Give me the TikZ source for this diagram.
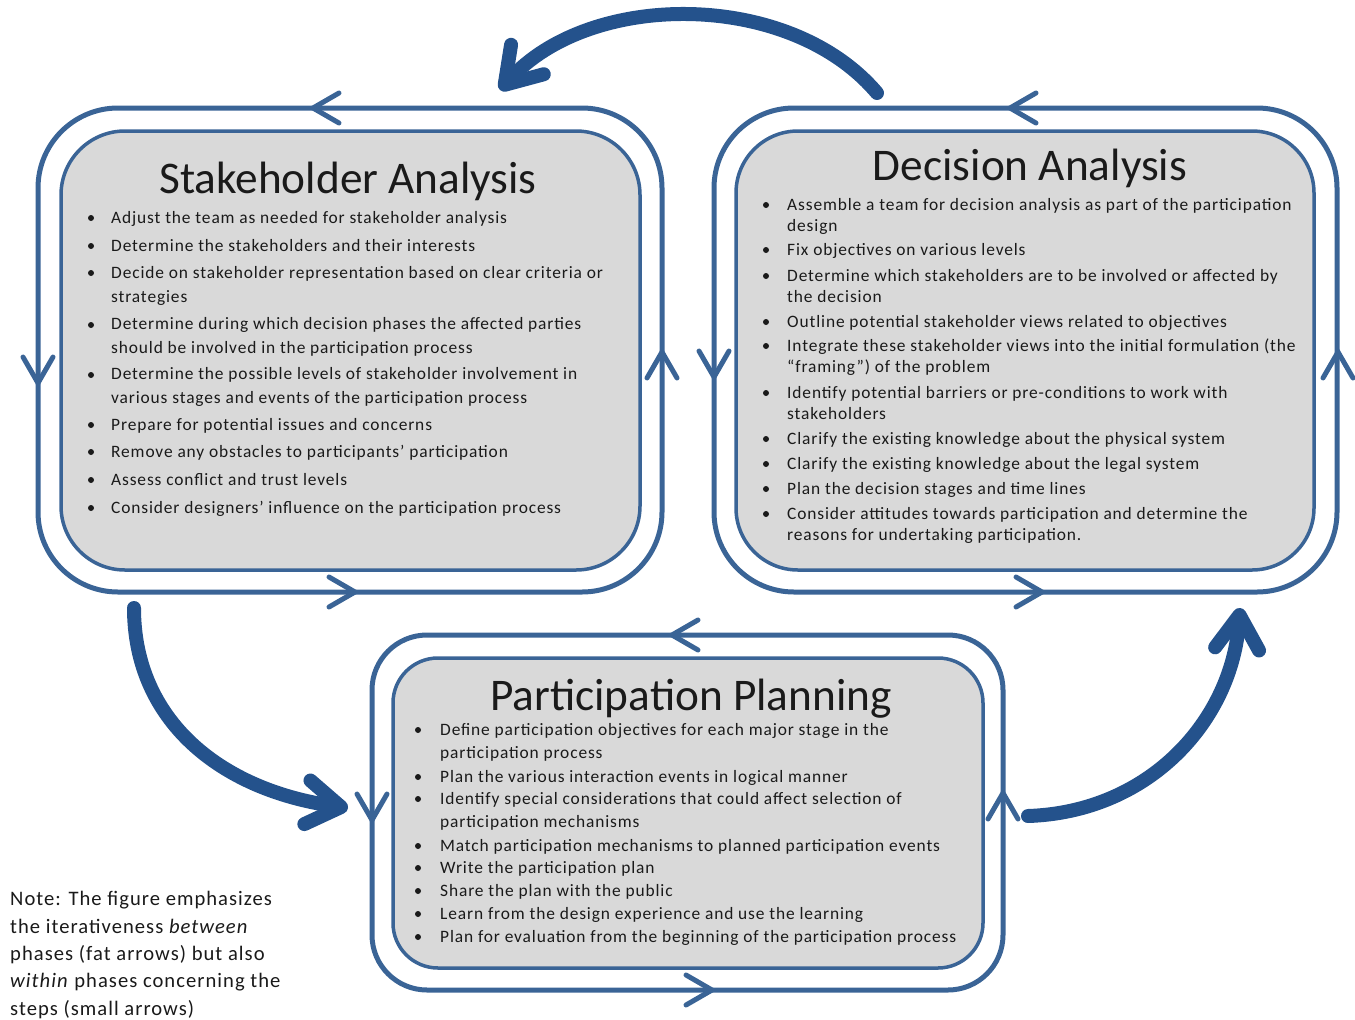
\documentclass[tikz,border=0pt]{standalone}
\usepackage{fontspec}
\setmainfont{Carlito}
\newfontfamily\bodyfont[LetterSpace=5]{Carlito}
\usetikzlibrary{arrows.meta}

\definecolor{frameblue}{HTML}{3A6496}
\definecolor{fatblue}{HTML}{24528C}
\definecolor{boxgray}{HTML}{D9D9D9}
\definecolor{txt}{HTML}{1A1A1A}

\begin{document}
\begin{tikzpicture}[x=1pt, y=-1pt,
  frame/.style={draw=frameblue, line width=5pt},
  inbox/.style={draw=frameblue, line width=3.5pt, fill=boxgray},
  fat/.style={draw=fatblue, line width=14pt, line cap=round,
    -{Straight Barb[length=34pt, width=44pt, round]}},
  title/.style={anchor=base, inner sep=0pt, text=txt, font=\fontsize{45.3}{54}\selectfont},
  item/.style={anchor=base west, align=left, inner sep=0pt, text=txt},
  saitem/.style={item, font=\bodyfont\fontsize{17.4}{24}\selectfont},
  daitem/.style={item, font=\bodyfont\fontsize{17.4}{21}\selectfont},
  ppitem/.style={item, font=\bodyfont\fontsize{17.4}{23}\selectfont}]

\useasboundingbox (0,0) rectangle (1355,1020);

\def\SAx{111}
\def\DAx{787}
\def\PPx{440}

% frames
\draw[frame, rounded corners=80pt] (38,108) rectangle (662,592);
\draw[inbox, rounded corners=64pt] (61,131) rectangle (640,570);

\draw[frame, rounded corners=80pt] (714,108) rectangle (1337,592);
\draw[inbox, rounded corners=62pt] (736,131) rectangle (1314,570);

\draw[frame, rounded corners=55pt] (372,635) rectangle (1003,990);
\draw[inbox, rounded corners=45pt] (393,658) rectangle (983,968);

% small arrows on the frames
\foreach \X/\Y/\A in {313/108/180, 355/592/0, 38/383/90, 662/352/270,
                      1010/108/180, 1042/592/0, 714/377/90, 1338/352/270,
                      672/635/180, 712/990/0, 372/820/90, 1003/793/270}
  \draw[frame, line cap=round] (\X,\Y) ++(\A+150:30) -- (\X,\Y) -- ++(\A-150:30);

% fat arrows
\draw[fat] (877,93) .. controls (790,-10) and (590,-10) .. (500,90);
\draw[fat] (134,608) .. controls (134,720) and (220,790) .. (348,808);
\draw[fat] (1028,816) .. controls (1150,812) and (1232,720) .. (1240,608);

% titles
\node[title] (saT) at (348,193) {Stakeholder Analysis};
\node[title] (daT) at (1030,180) {Decision Analysis};
\node[title] (ppT) at (691,710) {Participation Planning};

% stakeholder analysis (multi-line nodes sit on their last line)
\foreach \Y in {223,251,278,330,380,430,457,485,513}
  \fill[txt] (91,\Y-5) circle (3);
\node[saitem] (sa1) at (\SAx,223) {Adjust the team as needed for stakeholder analysis};
\node[saitem] (sa2) at (\SAx,251) {Determine the stakeholders and their interests};
\node[saitem] (sa3) at (\SAx,302) {Decide on stakeholder representation based on clear criteria or\\strategies};
\node[saitem] (sa4) at (\SAx,353) {Determine during which decision phases the affected parties\\should be involved in the participation process};
\node[saitem] (sa5) at (\SAx,403) {Determine the possible levels of stakeholder involvement in\\various stages and events of the participation process};
\node[saitem] (sa6) at (\SAx,430) {Prepare for potential issues and concerns};
\node[saitem] (sa7) at (\SAx,457) {Remove any obstacles to participants’ participation};
\node[saitem] (sa8) at (\SAx,485) {Assess conflict and trust levels};
\node[saitem] (sa9) at (\SAx,513) {Consider designers’ influence on the participation process};

% decision analysis
\foreach \Y in {210,255,281,327,351,398,444,469,494,519}
  \fill[txt] (766,\Y-5) circle (3);
\node[daitem] (da1) at (\DAx,231) {Assemble a team for decision analysis as part of the participation\\design};
\node[daitem] (da2) at (\DAx,255) {Fix objectives on various levels};
\node[daitem] (da3) at (\DAx,302) {Determine which stakeholders are to be involved or affected by\\the decision};
\node[daitem] (da4) at (\DAx,327) {Outline potential stakeholder views related to objectives};
\node[daitem] (da5) at (\DAx,372) {Integrate these stakeholder views into the initial formulation (the\\“framing”) of the problem};
\node[daitem] (da6) at (\DAx,419) {Identify potential barriers or pre-conditions to work with\\stakeholders};
\node[daitem] (da7) at (\DAx,444) {Clarify the existing knowledge about the physical system};
\node[daitem] (da8) at (\DAx,469) {Clarify the existing knowledge about the legal system};
\node[daitem] (da9) at (\DAx,494) {Plan the decision stages and time lines};
\node[daitem] (da10) at (\DAx,540) {Consider attitudes towards participation and determine the\\reasons for undertaking participation.};

% participation planning
\foreach \Y in {735,782,804,851,873,896,919,942}
  \fill[txt] (418,\Y-5) circle (3);
\node[ppitem] (pp1) at (\PPx,758) {Define participation objectives for each major stage in the\\participation process};
\node[ppitem] (pp2) at (\PPx,782) {Plan the various interaction events in logical manner};
\node[ppitem] (pp3) at (\PPx,827) {Identify special considerations that could affect selection of\\participation mechanisms};
\node[ppitem] (pp4) at (\PPx,851) {Match participation mechanisms to planned participation events};
\node[ppitem] (pp5) at (\PPx,873) {Write the participation plan};
\node[ppitem] (pp6) at (\PPx,896) {Share the plan with the public};
\node[ppitem] (pp7) at (\PPx,919) {Learn from the design experience and use the learning};
\node[ppitem] (pp8) at (\PPx,942) {Plan for evaluation from the beginning of the participation process};

% note
\node[item, font=\bodyfont\fontsize{20.6}{27.3}\selectfont] (note) at (10,1015)
  {Note: The figure emphasizes\\the iterativeness \textit{between}\\phases (fat arrows) but also\\\textit{within} phases concerning the\\steps (small arrows)};

\end{tikzpicture}
\end{document}
